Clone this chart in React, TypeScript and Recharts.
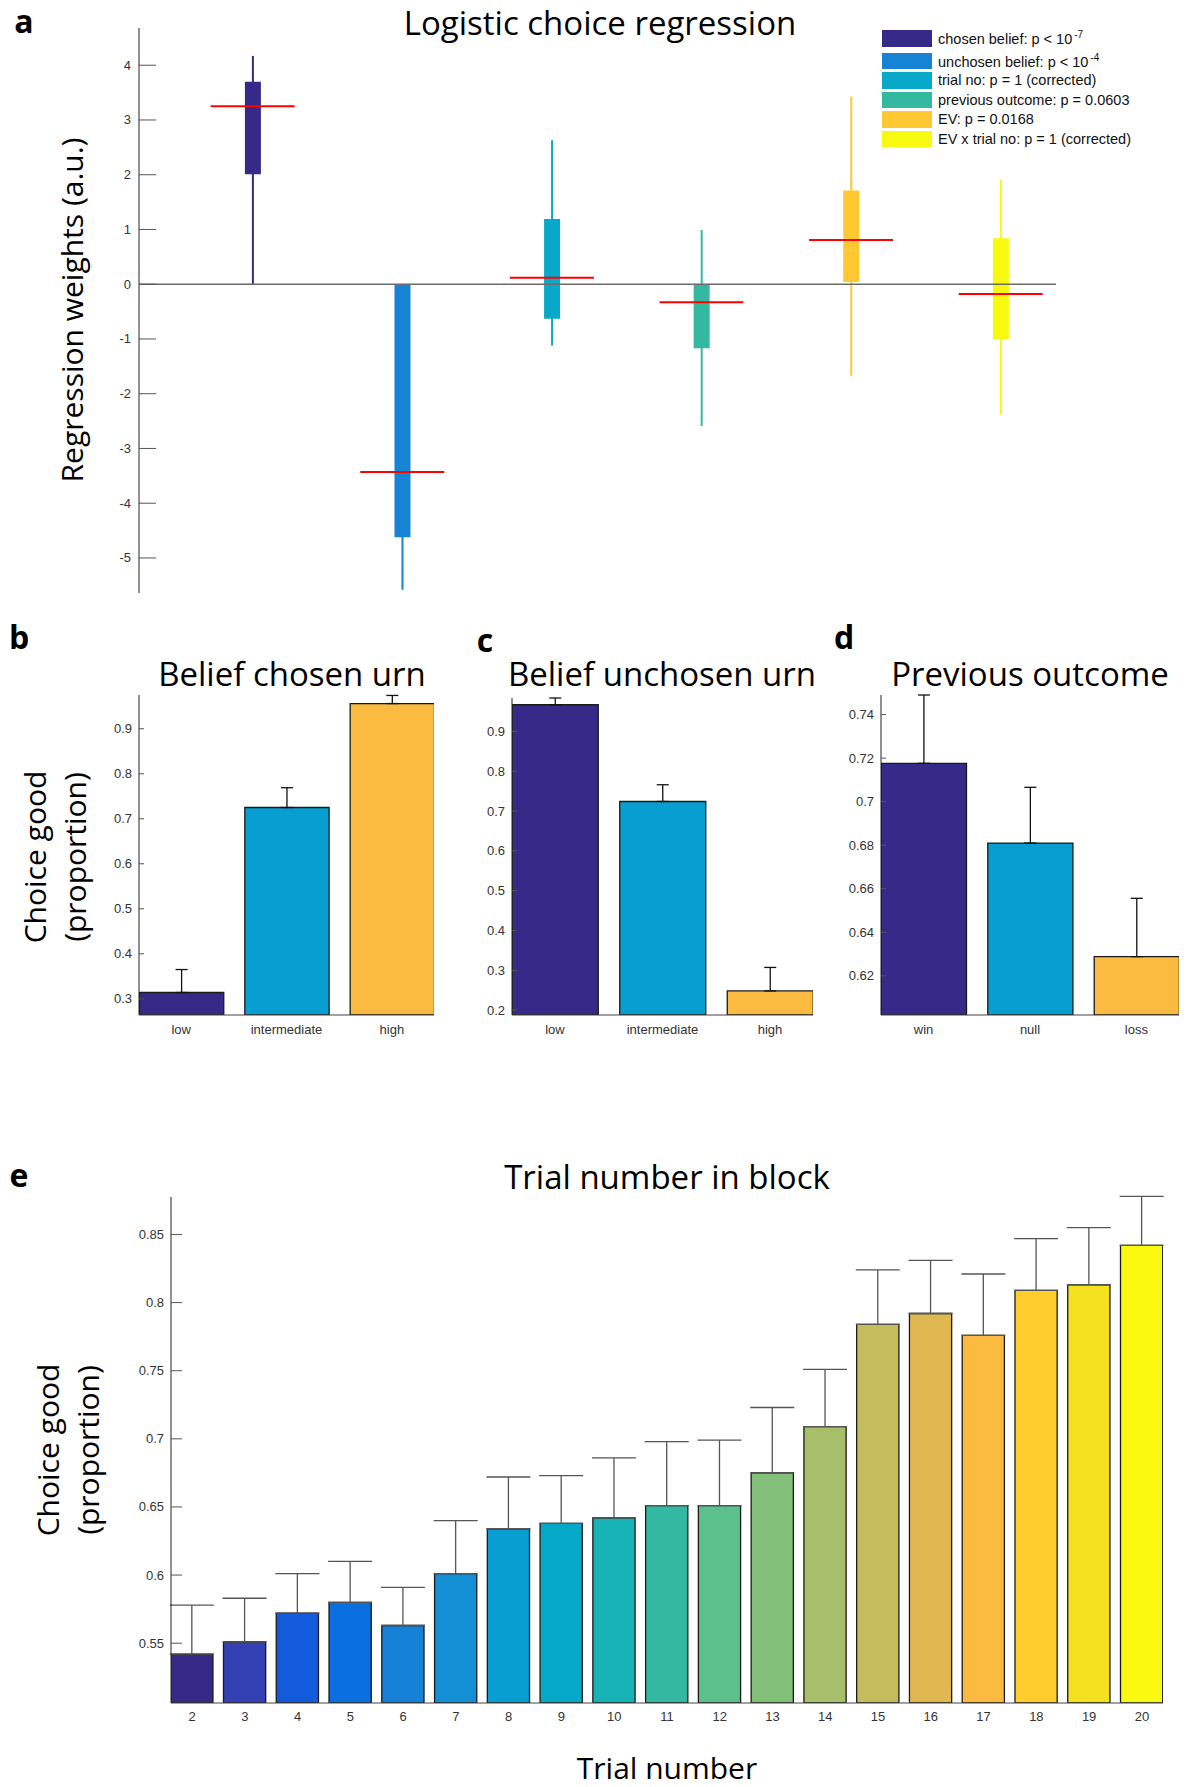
import React from 'react';
import { ComposedChart, BarChart, Bar, XAxis, YAxis, Cell, ErrorBar, Scatter, ReferenceLine } from 'recharts';

// ---- panel a: logistic regression weights ----
const regNames = ['chosen belief', 'unchosen belief', 'trial no', 'previous outcome', 'EV', 'EV x trial no'];
const regLegendText = ['chosen belief: p < 10', 'unchosen belief: p < 10', 'trial no: p = 1 (corrected)', 'previous outcome: p = 0.0603', 'EV: p = 0.0168', 'EV x trial no: p = 1 (corrected)'];
const regLegendSup = ['-7', '-4', '', '', '', ''];
const regColors = ['#352a87', '#1683d4', '#07a8c8', '#34b8a0', '#fec833', '#f7f90f'];
const regBoxLow = [2.01, -4.62, -0.63, -1.17, 0.04, -1.01];
const regBoxHigh = [3.7, 0, 1.19, 0, 1.71, 0.84];
const regWhiskerLow = [0, -5.58, -1.12, -2.59, -1.67, -2.38];
const regWhiskerHigh = [4.17, 0, 2.63, 0.99, 3.43, 1.91];
const regMedian = [3.25, -3.43, 0.12, -0.33, 0.81, -0.18];
const regTicks = [-5, -4, -3, -2, -1, 0, 1, 2, 3, 4];

// ---- panels b, c, d ----
const beliefCats = ['low', 'intermediate', 'high'];
const chosenMean = [0.314, 0.725, 0.956];
const chosenUpper = [0.365, 0.769, 0.974];
const unchosenMean = [0.967, 0.724, 0.248];
const unchosenUpper = [0.984, 0.766, 0.307];
const outcomeCats = ['win', 'null', 'loss'];
const outcomeMean = [0.7176, 0.681, 0.6288];
const outcomeUpper = [0.749, 0.7066, 0.6556];
const threeColors = ['#352a87', '#079fd2', '#fbbb40'];

// ---- panel e ----
const trialNums = ['2', '3', '4', '5', '6', '7', '8', '9', '10', '11', '12', '13', '14', '15', '16', '17', '18', '19', '20'];
const trialMean = [0.542, 0.551, 0.572, 0.58, 0.563, 0.601, 0.634, 0.638, 0.642, 0.651, 0.651, 0.675, 0.709, 0.784, 0.792, 0.776, 0.809, 0.813, 0.842];
const trialUpper = [0.578, 0.583, 0.601, 0.61, 0.591, 0.64, 0.672, 0.673, 0.686, 0.698, 0.699, 0.723, 0.751, 0.824, 0.831, 0.821, 0.847, 0.855, 0.878];
const trialColors = ['#352a87', '#3441b5', '#125bdc', '#0a6fe0', '#1582d8', '#128fd5', '#079ed2', '#06a8c7', '#16b2b6', '#33b9a1', '#5bc08b', '#82bf79', '#a7bf6a', '#c5bc5e', '#e0b852', '#fbbb41', '#fdcd2c', '#f4e21f', '#f9fa10'];

const TICK_FONT = '"Liberation Sans", Arial, sans-serif';
const TITLE_FONT = '"Open Sans", sans-serif';

const fmt = (v: number) => String(+v.toFixed(3));

const InnerTick = (props: any) => {
  const { x, y, payload, len, margin, size } = props;
  return (
    <g>
      <line x1={x + margin} x2={x + margin + len} y1={y} y2={y} stroke="#555" strokeWidth={1} />
      <text x={x} y={y} dy={4.5} textAnchor="end" fontSize={size} fill="#333" fontFamily={TICK_FONT}>
        {fmt(payload.value)}
      </text>
    </g>
  );
};

const Txt = ({ x, y, size, bold, rotate, lines, children }: any) => (
  <div
    style={{
      position: 'absolute',
      left: x,
      top: y,
      transform: `translate(-50%, -50%)${rotate ? ' rotate(-90deg)' : ''}`,
      fontSize: size,
      fontWeight: bold ? 700 : 400,
      fontFamily: TITLE_FONT,
      whiteSpace: 'nowrap',
      textAlign: 'center',
      lineHeight: lines ? 1.33 : 1,
      color: '#000',
    }}
  >
    {children}
  </div>
);

const regData = regNames.map((name, i) => ({
  name,
  pos: i + 1,
  box: [regBoxLow[i], regBoxHigh[i]],
  whisker: [regWhiskerLow[i], regWhiskerHigh[i]],
  median: regMedian[i],
}));

const MedianMark = (props: any) => {
  const { cx, cy } = props;
  return <line x1={cx - 42} x2={cx + 42} y1={cy} y2={cy} stroke="#ff0000" strokeWidth={2} />;
};

const RegressionPanel = () => (
  <div style={{ position: 'absolute', left: 0, top: 0 }}>
    <ComposedChart width={1189} height={610} data={regData} margin={{ top: 28, right: 133, bottom: 17, left: 79 }}>
      <XAxis type="number" dataKey="pos" domain={[0.24, 6.37]} allowDataOverflow hide />
      <XAxis xAxisId="w" type="number" dataKey="pos" domain={[0.24, 6.37]} allowDataOverflow hide />
      <YAxis
        type="number"
        domain={[-5.64, 4.68]}
        allowDataOverflow
        ticks={regTicks}
        width={60}
        tickSize={0}
        tickMargin={8}
        tickLine={false}
        axisLine={{ stroke: '#222', strokeWidth: 1 }}
        tick={<InnerTick len={17} margin={8} size={13} />}
      />
      <ReferenceLine y={0} stroke="#6b6b6b" strokeWidth={1.5} />
      <Bar xAxisId="w" dataKey="whisker" barSize={2} isAnimationActive={false}>
        {regData.map((d, i) => (
          <Cell key={d.name} fill={regColors[i]} />
        ))}
      </Bar>
      <Bar dataKey="box" barSize={16} isAnimationActive={false}>
        {regData.map((d, i) => (
          <Cell key={d.name} fill={regColors[i]} />
        ))}
      </Bar>
      <Scatter dataKey="median" shape={<MedianMark />} isAnimationActive={false} />
    </ComposedChart>
  </div>
);

const RegLegend = () => (
  <div style={{ position: 'absolute', left: 882, top: 30, fontFamily: TICK_FONT, fontSize: 14.5, color: '#111' }}>
    {regLegendText.map((t, i) => (
      <div key={t} style={{ display: 'flex', alignItems: 'center', height: 16.5, marginBottom: i === 0 ? 6 : 3 }}>
        <div style={{ width: 50, height: 16.5, background: regColors[i], marginRight: 6 }} />
        <span style={{ whiteSpace: 'nowrap' }}>
          {t}
          {regLegendSup[i] && <sup style={{ fontSize: 10, marginLeft: 2 }}>{regLegendSup[i]}</sup>}
        </span>
      </div>
    ))}
  </div>
);

type PanelProps = {
  left: number;
  top: number;
  width: number;
  height: number;
  plotLeft: number;
  plotRight: number;
  plotTop: number;
  plotBottom: number;
  cats: string[];
  means: number[];
  uppers: number[];
  colors: string[];
  domain: [number, number];
  ticks: number[];
  capWidth: number;
  tickLen: number;
  errColor: string;
  xTickMargin: number;
};

const BarPanel = (p: PanelProps) => {
  const n = p.cats.length;
  const yAxisWidth = 60;
  const xAxisHeight = 30;
  const data = p.cats.map((c, i) => ({ cat: c, pos: i + 1, mean: p.means[i], err: [0, p.uppers[i] - p.means[i]] }));
  const barSize = (0.8 * (p.plotRight - p.plotLeft)) / (n - 0.2);
  return (
    <div style={{ position: 'absolute', left: p.left, top: p.top }}>
      <BarChart
        width={p.width}
        height={p.height}
        data={data}
        margin={{
          top: p.plotTop - p.top,
          bottom: p.top + p.height - p.plotBottom - xAxisHeight,
          left: p.plotLeft - p.left - yAxisWidth,
          right: p.left + p.width - p.plotRight,
        }}
      >
        <XAxis
          type="number"
          dataKey="pos"
          domain={[0.6, n + 0.4]}
          allowDataOverflow
          ticks={data.map((d) => d.pos)}
          tickFormatter={(v: number) => p.cats[v - 1]}
          height={xAxisHeight}
          tickSize={0}
          tickMargin={p.xTickMargin}
          tickLine={false}
          axisLine={{ stroke: '#444', strokeWidth: 1.2 }}
          tick={{ fontSize: 13, fill: '#333', fontFamily: TICK_FONT }}
          interval={0}
        />
        <YAxis
          type="number"
          domain={p.domain}
          allowDataOverflow
          ticks={p.ticks}
          width={yAxisWidth}
          tickSize={0}
          tickMargin={7}
          tickLine={false}
          axisLine={{ stroke: '#222', strokeWidth: 1 }}
          tick={<InnerTick len={p.tickLen} margin={7} size={13} />}
        />
        <Bar dataKey="mean" barSize={barSize} stroke="#1a1a1a" strokeWidth={1.3} isAnimationActive={false}>
          {data.map((d, i) => (
            <Cell key={d.cat} fill={p.colors[i]} />
          ))}
          <ErrorBar dataKey="err" width={p.capWidth} stroke={p.errColor} strokeWidth={1.3} direction="y" />
        </Bar>
      </BarChart>
    </div>
  );
};

export default function App() {
  return (
    <div style={{ position: 'absolute', left: 0, top: 0, width: 1189, height: 1787, background: '#fff', overflow: 'hidden' }}>
      <RegressionPanel />
      <RegLegend />
      <Txt x={24} y={21} size={32} bold>a</Txt>
      <Txt x={600} y={22} size={33}>Logistic choice regression</Txt>
      <Txt x={72} y={310} size={30} rotate>Regression weights (a.u.)</Txt>

      <BarPanel
        left={0} top={680} width={450} height={370}
        plotLeft={139} plotRight={434} plotTop={695} plotBottom={1015}
        cats={beliefCats} means={chosenMean} uppers={chosenUpper} colors={threeColors}
        domain={[0.264, 0.975]} ticks={[0.3, 0.4, 0.5, 0.6, 0.7, 0.8, 0.9]}
        capWidth={6} tickLen={5} errColor="#111" xTickMargin={10}
      />
      <BarPanel
        left={450} top={680} width={380} height={370}
        plotLeft={512} plotRight={813} plotTop={698} plotBottom={1015}
        cats={beliefCats} means={unchosenMean} uppers={unchosenUpper} colors={threeColors}
        domain={[0.1875, 0.984]} ticks={[0.2, 0.3, 0.4, 0.5, 0.6, 0.7, 0.8, 0.9]}
        capWidth={6} tickLen={5} errColor="#111" xTickMargin={10}
      />
      <BarPanel
        left={830} top={680} width={359} height={370}
        plotLeft={881} plotRight={1179} plotTop={695} plotBottom={1015}
        cats={outcomeCats} means={outcomeMean} uppers={outcomeUpper} colors={threeColors}
        domain={[0.602, 0.749]} ticks={[0.62, 0.64, 0.66, 0.68, 0.7, 0.72, 0.74]}
        capWidth={6} tickLen={5} errColor="#111" xTickMargin={10}
      />
      <Txt x={19} y={637} size={32} bold>b</Txt>
      <Txt x={485} y={640} size={32} bold>c</Txt>
      <Txt x={844} y={637} size={32} bold>d</Txt>
      <Txt x={292} y={673} size={33}>Belief chosen urn</Txt>
      <Txt x={662} y={673} size={33}>Belief unchosen urn</Txt>
      <Txt x={1030} y={673} size={33}>Previous outcome</Txt>
      <Txt x={55} y={857} size={30} rotate lines>Choice good<br />(proportion)</Txt>

      <BarPanel
        left={0} top={1180} width={1189} height={600}
        plotLeft={171} plotRight={1163} plotTop={1197} plotBottom={1703}
        cats={trialNums} means={trialMean} uppers={trialUpper} colors={trialColors}
        domain={[0.5061, 0.8775]} ticks={[0.55, 0.6, 0.65, 0.7, 0.75, 0.8, 0.85]}
        capWidth={22} tickLen={11} errColor="#555" xTickMargin={9}
      />
      <Txt x={19} y={1175} size={32} bold>e</Txt>
      <Txt x={667} y={1176} size={33}>Trial number in block</Txt>
      <Txt x={68} y={1450} size={30} rotate lines>Choice good<br />(proportion)</Txt>
      <Txt x={667} y={1768} size={30}>Trial number</Txt>
    </div>
  );
}
